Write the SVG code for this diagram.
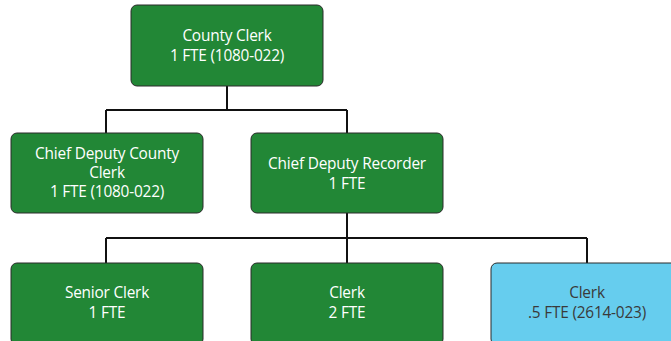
<svg xmlns="http://www.w3.org/2000/svg" width="671" height="341" viewBox="0 0 671 341">
<style>
.box{stroke:#2a2a2a;stroke-width:1}
.g{fill:#228736}
.b{fill:#66cdee}
.t{font-family:"Open Sans","Noto Sans",sans-serif;font-size:15.4px;text-anchor:middle;letter-spacing:-0.2px}
.tw{fill:#ffffff}
.td{fill:#3a3a3a}
.c{fill:none;stroke:#111;stroke-width:2}
</style>
<rect width="671" height="341" fill="#ffffff"/>
<g id="connectors">
<path class="c" d="M227 86V110M106 110H347M106 110V133M347 110V133"/>
<path class="c" d="M347 213V238M106 238H587M106 238V263M347 238V263M587 238V263"/>
</g>
<g id="county-clerk">
<rect class="box g" x="131" y="5" width="192" height="81" rx="6"/>
<text class="t tw" x="227" y="40.5">County Clerk</text>
<text class="t tw" x="227" y="60.5">1 FTE (1080-022)</text>
</g>
<g id="chief-deputy-county-clerk">
<rect class="box g" x="11" y="133" width="192" height="80" rx="6"/>
<text class="t tw" x="107" y="158.5">Chief Deputy County</text>
<text class="t tw" x="107" y="177.5">Clerk</text>
<text class="t tw" x="107" y="196.5">1 FTE (1080-022)</text>
</g>
<g id="chief-deputy-recorder">
<rect class="box g" x="251" y="133" width="192" height="80" rx="6"/>
<text class="t tw" x="347" y="168.5">Chief Deputy Recorder</text>
<text class="t tw" x="347" y="188.5">1 FTE</text>
</g>
<g id="senior-clerk">
<rect class="box g" x="11" y="263" width="192" height="82" rx="6"/>
<text class="t tw" x="107" y="297.5">Senior Clerk</text>
<text class="t tw" x="107" y="317.5">1 FTE</text>
</g>
<g id="clerk-2">
<rect class="box g" x="251" y="263" width="192" height="82" rx="6"/>
<text class="t tw" x="347" y="297.5">Clerk</text>
<text class="t tw" x="347" y="317.5">2 FTE</text>
</g>
<g id="clerk-5">
<rect class="box b" x="491" y="263" width="192" height="82" rx="6"/>
<text class="t td" x="587" y="297.5">Clerk</text>
<text class="t td" x="587" y="317.5">.5 FTE (2614-023)</text>
</g>
</svg>
